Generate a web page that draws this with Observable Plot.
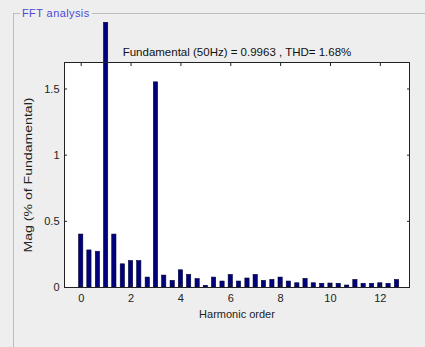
<!DOCTYPE html>
<html>
<head>
<meta charset="utf-8">
<script src="https://cdn.jsdelivr.net/npm/d3@7"></script>
<script src="https://cdn.jsdelivr.net/npm/@observablehq/plot@0.6"></script>
<style>
  html, body { margin: 0; padding: 0; background: #eeeeee; }
  #wrap { position: relative; width: 425px; height: 347px; overflow: hidden; font-family: "Liberation Sans", Arial, sans-serif; }
  #box { position: absolute; left: 13px; top: 13px; width: 440px; height: 360px; border-top: 1px solid #bdbdbd; border-left: 1px solid #bdbdbd; }
  #legend { position: absolute; left: 20px; top: 6px; padding: 0 2px; background: #eeeeee; color: #4a4ad6; font-size: 11px; letter-spacing: 0.4px; line-height: 14px; }
  #chart { position: absolute; left: 0; top: 0; }
  #chart svg { overflow: visible; }
</style>
</head>
<body>
<div id="wrap">
  <div id="box"></div>
  <div id="legend">FFT analysis</div>
  <div id="chart"></div>
</div>
<script>
const orders = [0, 0.33, 0.67, 1, 1.33, 1.67, 2, 2.33, 2.67, 3, 3.33, 3.67, 4, 4.33, 4.67, 5, 5.33, 5.67, 6, 6.33, 6.67, 7, 7.33, 7.67, 8, 8.33, 8.67, 9, 9.33, 9.67, 10, 10.33, 10.67, 11, 11.33, 11.67, 12, 12.33, 12.67];
const mags = [0.40, 0.28, 0.27, 2.00, 0.40, 0.175, 0.20, 0.20, 0.075, 1.55, 0.09, 0.05, 0.13, 0.095, 0.063, 0.013, 0.075, 0.045, 0.095, 0.045, 0.068, 0.095, 0.05, 0.057, 0.075, 0.045, 0.032, 0.065, 0.032, 0.028, 0.03, 0.028, 0.015, 0.057, 0.028, 0.028, 0.032, 0.028, 0.057];
const xTicks = [0, 2, 4, 6, 8, 10, 12];
const yTicks = [0, 0.5, 1, 1.5];
const titleText = "Fundamental (50Hz) = 0.9963 , THD= 1.68%";
const xLabel = "Harmonic order";
const yLabel = "Mag (% of Fundamental)";

const data = orders.map((o, i) => ({order: o, mag: mags[i]}));
const halfW = 0.085;
const noText = () => "";

const plot = Plot.plot({
  width: 425,
  height: 347,
  marginLeft: 64,
  marginRight: 16,
  marginTop: 62,
  marginBottom: 60,
  style: {background: "transparent", fontFamily: "'Liberation Sans', Arial, sans-serif", fontSize: "11px", color: "#222"},
  x: {domain: [-0.67, 13.17]},
  y: {domain: [0, 1.7]},
  marks: [
    Plot.frame({fill: "white", stroke: "none"}),
    Plot.rectY(data, {x1: d => d.order - halfW, x2: d => d.order + halfW, y: "mag", fill: "#00007c", stroke: "#000033", strokeWidth: 0.6}),
    // labels
    Plot.axisX({anchor: "bottom", ticks: xTicks, tickSize: 0, tickPadding: 7, tickFormat: d => String(d), label: xLabel, labelAnchor: "center", labelArrow: "none", labelOffset: 30}),
    Plot.axisY({anchor: "left", ticks: yTicks, tickSize: 0, tickPadding: 5, tickFormat: d => String(d), label: yLabel, labelAnchor: "center", labelArrow: "none", labelOffset: 40}),
    // inward ticks on all four sides
    Plot.axisX({anchor: "bottom", ticks: xTicks, tickSize: 3, dy: -3, tickFormat: noText, label: null, stroke: "#222"}),
    Plot.axisX({anchor: "top", ticks: xTicks, tickSize: 3, dy: 3, tickFormat: noText, label: null, stroke: "#222"}),
    Plot.axisY({anchor: "left", ticks: yTicks, tickSize: 3, dx: 3, tickFormat: noText, label: null, stroke: "#222"}),
    Plot.axisY({anchor: "right", ticks: yTicks, tickSize: 3, dx: -3, tickFormat: noText, label: null, stroke: "#222"}),
    Plot.frame({stroke: "#222", strokeWidth: 1}),
    Plot.text([titleText], {frameAnchor: "top", dy: -15, fontSize: 11.5, fill: "#111"})
  ]
});
document.getElementById("chart").appendChild(plot);
const yl = d3.select(plot).select('g[aria-label="y-axis label"] text');
yl.attr("textLength", 155).attr("lengthAdjust", "spacingAndGlyphs");
</script>
</body>
</html>
